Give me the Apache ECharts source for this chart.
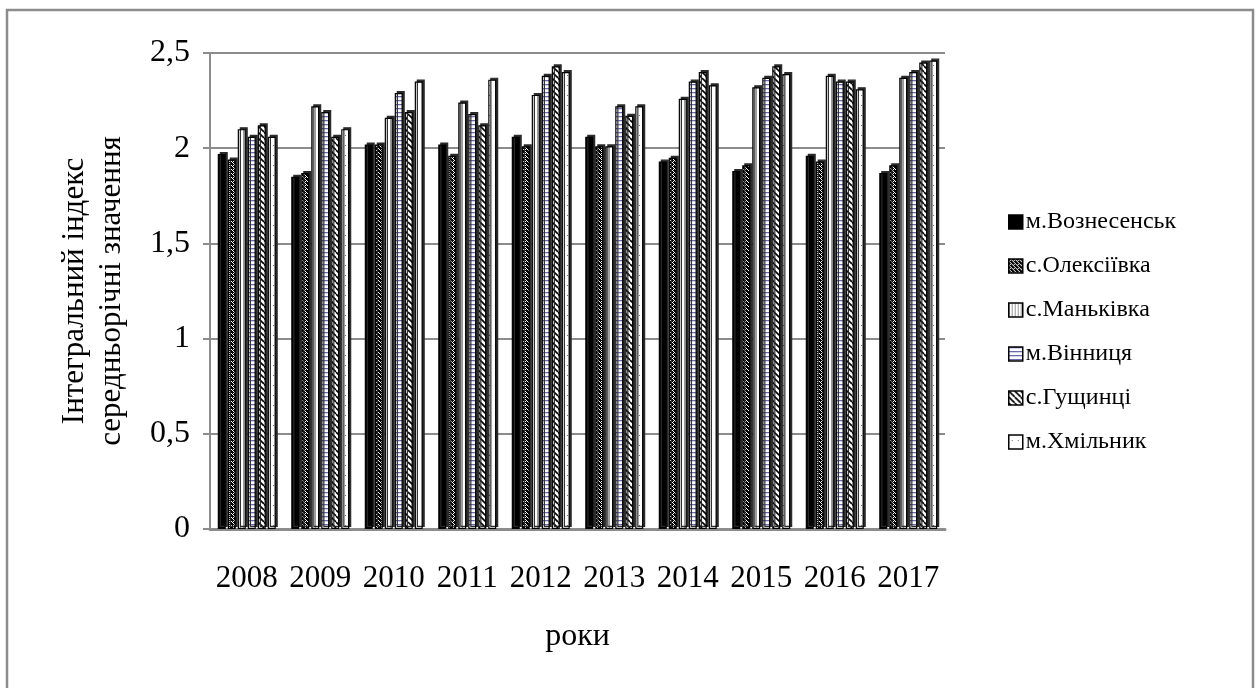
<!DOCTYPE html>
<html>
<head>
<meta charset="utf-8">
<script src="https://cdn.jsdelivr.net/npm/echarts@6/dist/echarts.min.js"></script>
<style>
  html, body { margin: 0; padding: 0; background: #fff; }
  #chart { width: 1259px; height: 688px; }
</style>
</head>
<body>
<div id="chart"></div>
<script>
// Integral index, mean annual values by settlement, 2008–2017
const years = ['2008', '2009', '2010', '2011', '2012', '2013', '2014', '2015', '2016', '2017'];
const names = ['м.Вознесенськ', 'с.Олексіївка', 'с.Маньківка', 'м.Вінниця', 'с.Гущинці', 'м.Хмільник'];

const voznesensk  = [1.97, 1.85, 2.02, 2.02, 2.06, 2.06, 1.93, 1.88, 1.96, 1.87];
const oleksiivka  = [1.94, 1.87, 2.02, 1.96, 2.01, 2.01, 1.95, 1.91, 1.93, 1.91];
const mankivka    = [2.10, 2.22, 2.16, 2.24, 2.28, 2.01, 2.26, 2.32, 2.38, 2.37];
const vinnytsia   = [2.06, 2.19, 2.29, 2.18, 2.38, 2.22, 2.35, 2.37, 2.35, 2.40];
const hushchyntsi = [2.12, 2.06, 2.19, 2.12, 2.43, 2.17, 2.40, 2.43, 2.35, 2.45];
const khmilnyk    = [2.06, 2.10, 2.35, 2.36, 2.40, 2.22, 2.33, 2.39, 2.31, 2.46];

const yTicks = [0, 0.5, 1, 1.5, 2, 2.5];

const FONT = '"Liberation Serif", "Times New Roman", serif';
const GRAY = '#8c8c8c';

// Small repeating tiles used as hatch fills
function tile(w, h, draw) {
  const c = document.createElement('canvas');
  c.width = w; c.height = h;
  const ctx = c.getContext('2d');
  ctx.fillStyle = '#fff';
  ctx.fillRect(0, 0, w, h);
  draw(ctx);
  return { image: c, repeat: 'repeat' };
}

const fills = [
  '#000',
  // dense stipple
  tile(4, 4, ctx => {
    const m = ['1101', '1010', '0111', '1011'];
    ctx.fillStyle = '#000';
    m.forEach((row, y) => [...row].forEach((v, x) => { if (v === '1') ctx.fillRect(x, y, 1, 1); }));
  }),
  // vertical lines
  tile(3, 2, ctx => { ctx.fillStyle = '#9a9a9a'; ctx.fillRect(0, 0, 1, 2); }),
  // horizontal lines
  tile(2, 4, ctx => {
    ctx.fillStyle = '#6a6aa8'; ctx.fillRect(0, 0, 2, 1);
    ctx.fillStyle = '#d4d4ea'; ctx.fillRect(0, 1, 2, 1);
  }),
  // wide diagonal hatch
  tile(6, 6, ctx => {
    ctx.strokeStyle = '#000'; ctx.lineWidth = 1.6;
    for (const o of [-6, 0, 6]) {
      ctx.beginPath(); ctx.moveTo(o, 0); ctx.lineTo(o + 6, 6); ctx.stroke();
    }
  }),
  // sparse dots
  tile(6, 10, ctx => { ctx.fillStyle = '#777'; ctx.fillRect(3, 5, 1, 1); })
];

const values = [voznesensk, oleksiivka, mankivka, vinnytsia, hushchyntsi, khmilnyk];

const chart = echarts.init(document.getElementById('chart'), null, { renderer: 'canvas' });

chart.setOption({
  animation: false,
  backgroundColor: '#fff',
  graphic: [{
    type: 'rect',
    shape: { x: 7, y: 10, width: 1246, height: 690 },
    style: { fill: 'none', stroke: GRAY, lineWidth: 2.5 },
    silent: true,
    z: -10
  }],
  grid: { left: 210, right: 314, top: 53, bottom: 159, containLabel: false },
  legend: {
    orient: 'vertical',
    left: 1003,
    top: 205,
    itemWidth: 14,
    itemHeight: 14,
    itemGap: 20,
    icon: 'rect',
    textStyle: { fontFamily: FONT, fontSize: 24, color: '#000', padding: [0, 0, 0, -2] },
    itemStyle: { borderColor: '#000', borderWidth: 1.5, shadowColor: 'rgba(0,0,0,0)', shadowOffsetX: 0, shadowOffsetY: 0 },
    data: names
  },
  xAxis: {
    type: 'category',
    data: years,
    name: 'роки',
    nameLocation: 'middle',
    nameGap: 92,
    nameTextStyle: { fontFamily: FONT, fontSize: 32, color: '#000' },
    axisLine: { lineStyle: { color: GRAY, width: 3 } },
    axisTick: { show: false },
    axisLabel: { fontFamily: FONT, fontSize: 31, color: '#000', margin: 34, interval: 0, hideOverlap: false }
  },
  yAxis: {
    type: 'value',
    min: 0,
    max: 2.5,
    interval: 0.5,
    name: 'Інтегральний індекс\nсередньорічні значення',
    nameLocation: 'middle',
    nameGap: 80,
    nameTextStyle: { fontFamily: FONT, fontSize: 31, color: '#000', lineHeight: 37 },
    axisLine: { show: true, lineStyle: { color: GRAY, width: 2 } },
    axisTick: { show: true, length: 7, lineStyle: { color: GRAY, width: 2 } },
    axisLabel: {
      fontFamily: FONT, fontSize: 32, color: '#000', margin: 20,
      formatter: v => yTicks.includes(v) ? String(v).replace('.', ',') : ''
    },
    splitLine: { lineStyle: { color: GRAY, width: 2 } }
  },
  series: names.map((n, i) => ({
    name: n,
    type: 'bar',
    data: values[i],
    barWidth: 8,
    barGap: '25%',
    itemStyle: {
      color: fills[i],
      borderColor: '#000',
      borderWidth: 1.2,
      shadowColor: '#2a2a2a',
      shadowBlur: 0,
      shadowOffsetX: 2,
      shadowOffsetY: -2
    }
  }))
});
</script>
</body>
</html>
